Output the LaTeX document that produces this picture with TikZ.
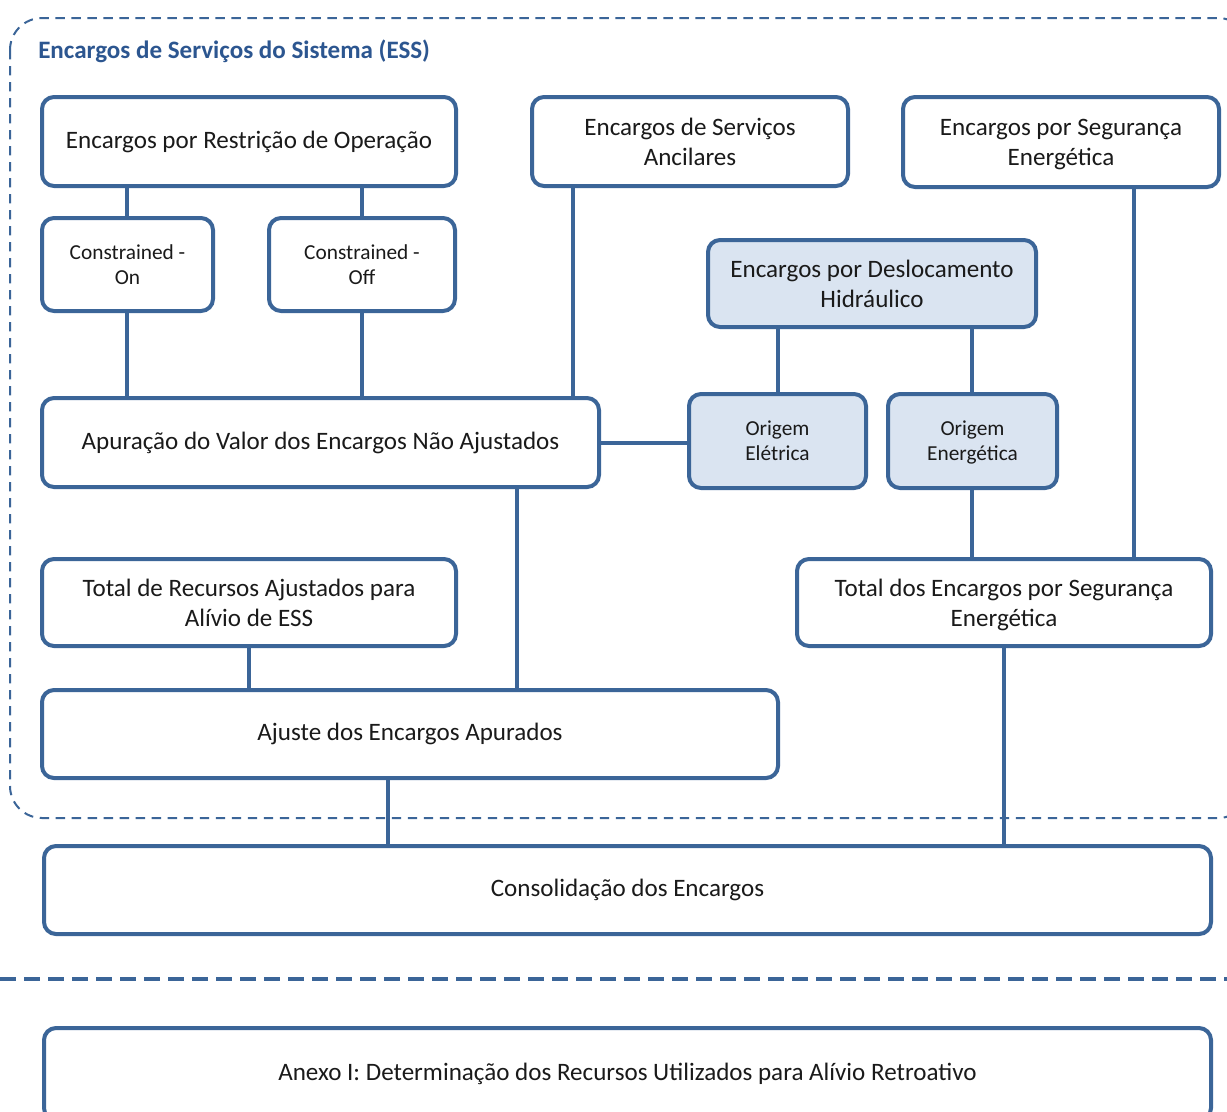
\documentclass[tikz,border=0pt]{standalone}
\usepackage{fontspec}
\setmainfont{Carlito}
\definecolor{bord}{HTML}{3B6598}
\definecolor{lfill}{HTML}{DAE4F1}
\definecolor{ttl}{HTML}{2C5690}
\definecolor{txt}{HTML}{1A1A1A}
\begin{document}
\begin{tikzpicture}[x=0.75pt,y=-0.75pt,
  box/.style={draw=bord, line width=3pt, rounded corners=9pt, fill=white, align=center,
    text=txt, font=\fontsize{18.8}{22.5}\selectfont, inner sep=0pt},
  sbox/.style={box, font=\fontsize{16}{18.75}\selectfont},
  hbox/.style={fill=lfill},
  conn/.style={draw=bord, line width=3pt}]
\clip (0,0) rectangle (1227,1111);
\fill[white] (0,0) rectangle (1227,1111);
% outer dashed frame
\draw[bord, line width=1.5pt, dash pattern=on 7pt off 5pt, rounded corners=24pt] (10,18) rectangle (1250,818);
\node[anchor=west, inner sep=0pt, text=ttl, font=\fontsize{18.8}{22}\selectfont\bfseries] (title) at (38,51) {Encargos de Serviços do Sistema (ESS)};
% separator
\draw[bord, line width=3pt, dash pattern=on 12pt off 6pt] (0,979) -- (1227,979);
% boxes
\node[box, minimum width=310.5pt, minimum height=66.75pt] (ero) at (249,141.5) {Encargos por Restrição de Operação};
\node[box, minimum width=237pt, minimum height=66.75pt] (esa) at (690,141.5) {Encargos de Serviços\\Ancilares};
\node[box, minimum width=237pt, minimum height=67.5pt] (ese) at (1061,142) {Encargos por Segurança\\\smash{Energética}};
\node[sbox, minimum width=128.25pt, minimum height=69.75pt] (con) at (127.5,264.5) {Constrained -\\On};
\node[sbox, minimum width=139.5pt, minimum height=69.75pt] (coff) at (362,264.5) {Constrained -\\Off};
\node[box, hbox, minimum width=246pt, minimum height=65.25pt] (edh) at (872,283.5) {Encargos por Deslocamento\\Hidráulico};
\node[box, minimum width=417.75pt, minimum height=66.75pt] (ave) at (320.5,442.5) {Apuração do Valor dos Encargos Não Ajustados};
\node[sbox, hbox, minimum width=132.75pt, minimum height=70.5pt] (oel) at (777.5,441) {Origem\\Elétrica};
\node[sbox, hbox, minimum width=126.75pt, minimum height=70.5pt] (oen) at (972.5,441) {Origem\\\smash{Energética}};
\node[box, minimum width=310.5pt, minimum height=65.25pt] (tra) at (249,602.5) {Total de Recursos Ajustados para\\Alívio de ESS};
\node[box, minimum width=310.5pt, minimum height=65.25pt] (tes) at (1004,602.5) {Total dos Encargos por Segurança\\\smash{Energética}};
\node[box, minimum width=552pt, minimum height=66pt] (aju) at (410,734) {Ajuste dos Encargos Apurados};
\node[box, minimum width=875.25pt, minimum height=66pt] (cons) at (627.5,890) {Consolidação dos Encargos};
\node[box, minimum width=875.25pt, minimum height=69pt] (anx) at (627.5,1074) {Anexo I: Determinação dos Recursos Utilizados para Alívio Retroativo};
% x positions for connectors
\coordinate (xa) at (573,0);
\coordinate (xb) at (517,0);
\coordinate (xc) at (778,0);
\coordinate (xd) at (972,0);
\coordinate (xe) at (1134,0);
\coordinate (xf) at (388,0);
\coordinate (xg) at (1004,0);
\coordinate (xh) at (249,0);
\coordinate (xi) at (127,0);
\coordinate (xj) at (362,0);
% connectors
\draw[conn] (ero.south -| xi) -- (con.north -| xi);
\draw[conn] (ero.south -| xj) -- (coff.north -| xj);
\draw[conn] (con.south -| xi) -- (ave.north -| xi);
\draw[conn] (coff.south -| xj) -- (ave.north -| xj);
\draw[conn] (esa.south -| xa) -- (ave.north -| xa);
\draw[conn] (edh.south -| xc) -- (oel.north -| xc);
\draw[conn] (edh.south -| xd) -- (oen.north -| xd);
\draw[conn] (ave.east) -- (oel.west |- ave.east);
\draw[conn] (oen.south -| xd) -- (tes.north -| xd);
\draw[conn] (ese.south -| xe) -- (tes.north -| xe);
\draw[conn] (ave.south -| xb) -- (aju.north -| xb);
\draw[conn] (tra.south -| xh) -- (aju.north -| xh);
\draw[conn] (aju.south -| xf) -- (cons.north -| xf);
\draw[conn] (tes.south -| xg) -- (cons.north -| xg);
\end{tikzpicture}
\end{document}
